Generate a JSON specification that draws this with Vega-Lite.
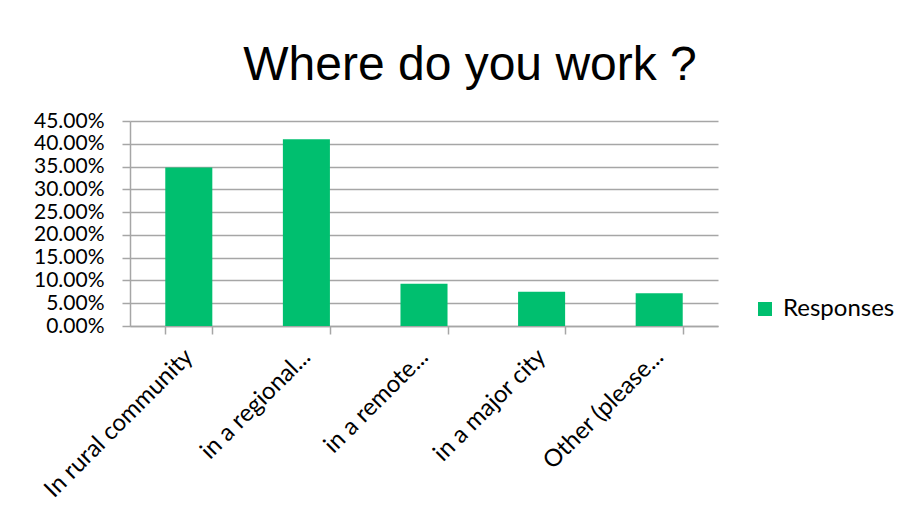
{
  "$schema": "https://vega.github.io/schema/vega-lite/v6.json",
  "autosize": "none",
  "width": 588,
  "height": 205,
  "padding": {"left": 130, "top": 121, "right": 201, "bottom": 195},
  "background": "white",
  "title": {
    "text": "Where do you work ?",
    "font": "Liberation Sans",
    "fontSize": 48,
    "fontWeight": "normal",
    "color": "black",
    "anchor": "middle",
    "frame": "group",
    "baseline": "alphabetic",
    "offset": 44,
    "dx": 46,
    "dy": 62
  },
  "data": {
    "values": [
      {"category": "In rural community", "value": 0.348, "series": "Responses"},
      {"category": "in a regional...", "value": 0.41, "series": "Responses"},
      {"category": "in a remote...", "value": 0.093, "series": "Responses"},
      {"category": "in a major city", "value": 0.075, "series": "Responses"},
      {"category": "Other (please...", "value": 0.072, "series": "Responses"}
    ]
  },
  "mark": {"type": "bar"},
  "encoding": {
    "x": {
      "field": "category",
      "type": "nominal",
      "sort": null,
      "scale": {"paddingInner": 0.6, "paddingOuter": 0.3},
      "axis": {
        "title": null,
        "labelAngle": -45,
        "labelAlign": "right",
        "labelBaseline": "middle",
        "labelFont": "Lato",
        "labelFontSize": 24,
        "labelColor": "black",
        "labelPadding": 19,
        "labelLimit": 400,
        "tickBand": "extent",
        "tickSize": 8,
        "tickColor": "#A6A6A6",
        "tickWidth": 1.5,
        "domainColor": "#A6A6A6",
        "domainWidth": 1.5,
        "grid": false
      }
    },
    "y": {
      "field": "value",
      "type": "quantitative",
      "scale": {"domain": [0, 0.45], "nice": false},
      "axis": {
        "title": null,
        "values": [0, 0.05, 0.1, 0.15, 0.2, 0.25, 0.3, 0.35, 0.4, 0.45],
        "format": ".2%",
        "labelFont": "Lato",
        "labelFontSize": 21,
        "labelColor": "black",
        "labelPadding": 18,
        "tickSize": 8,
        "tickColor": "#A6A6A6",
        "tickWidth": 1.5,
        "domainColor": "#A6A6A6",
        "domainWidth": 1.5,
        "grid": true,
        "gridColor": "#A6A6A6",
        "gridWidth": 1.5,
        "labelOverlap": false
      }
    },
    "color": {
      "field": "series",
      "type": "nominal",
      "scale": {"range": ["#00BF6F"]},
      "legend": {
        "title": null,
        "orient": "none",
        "legendX": 623,
        "legendY": 176,
        "symbolType": "square",
        "symbolSize": 196,
        "symbolStrokeWidth": 0,
        "labelFont": "Lato",
        "labelFontSize": 24,
        "labelColor": "black",
        "labelOffset": 6
      }
    }
  },
  "config": {
    "view": {"stroke": null}
  }
}
